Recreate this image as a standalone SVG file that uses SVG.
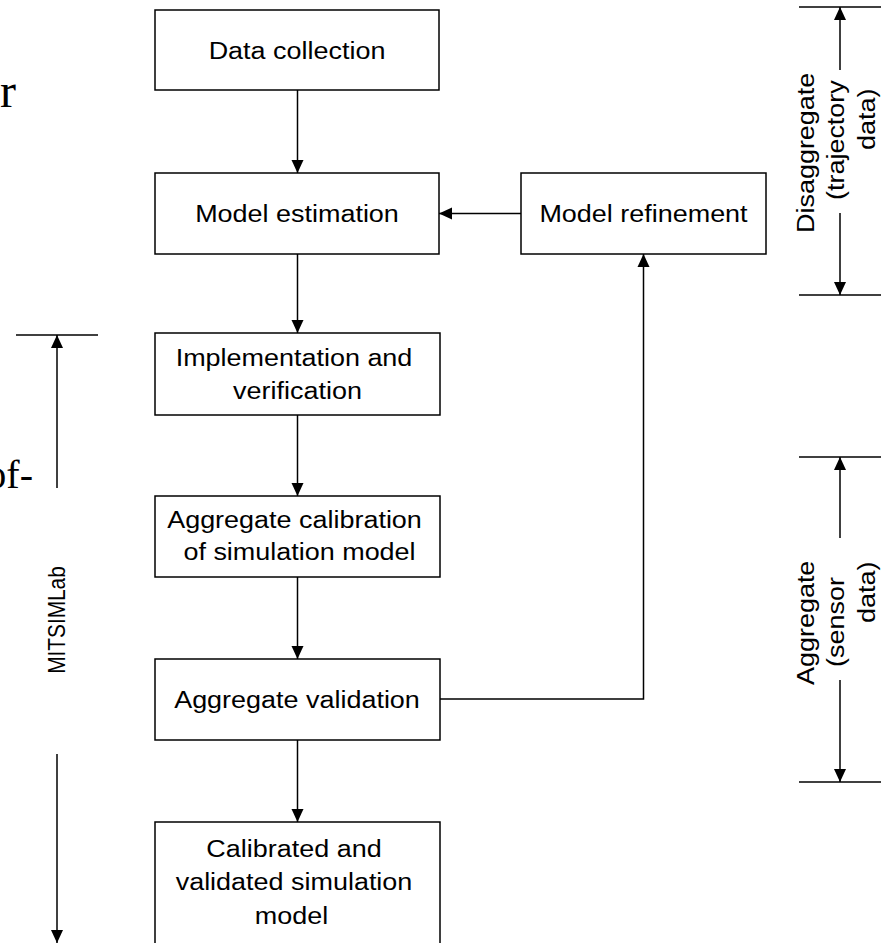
<svg xmlns="http://www.w3.org/2000/svg" width="892" height="943" viewBox="0 0 892 943">
  <style>
    .box { fill: #fff; stroke: #000; stroke-width: 1.5; }
    .lbl { font-family: "Liberation Sans", Arial, sans-serif; font-size: 24.5px; fill: #000; text-anchor: middle; }
    .side { font-family: "Liberation Sans", Arial, sans-serif; font-size: 24.5px; fill: #000; text-anchor: start; }
    .page { font-family: "Liberation Serif", "Times New Roman", serif; fill: #000; text-anchor: end; }
    .wire { fill: none; stroke: #000; stroke-width: 1.5; }
  </style>
  <defs>
    <marker id="head" markerUnits="userSpaceOnUse" markerWidth="14" markerHeight="13" refX="13" refY="6.5" orient="auto">
      <path d="M0,0.5 L13,6.5 L0,12.5 z" fill="#000"/>
    </marker>
  </defs>

  <rect width="892" height="943" fill="#fff"/>

  <!-- surrounding page text cut off at the left edge -->
  <text class="page" x="16" y="107" font-size="48">r</text>
  <text class="page" x="33" y="488" font-size="40">of-</text>

  <!-- process boxes -->
  <g id="data-collection">
    <rect class="box" x="155" y="10" width="284" height="80"/>
    <text class="lbl" transform="translate(297,59) scale(1.1,1)">Data collection</text>
  </g>
  <g id="model-estimation">
    <rect class="box" x="155" y="173" width="284" height="81"/>
    <text class="lbl" transform="translate(297,222) scale(1.1,1)">Model estimation</text>
  </g>
  <g id="model-refinement">
    <rect class="box" x="521" y="173" width="245" height="81"/>
    <text class="lbl" transform="translate(643.5,222) scale(1.1,1)">Model refinement</text>
  </g>
  <g id="implementation">
    <rect class="box" x="155" y="333" width="285" height="82"/>
    <text class="lbl" transform="translate(294,366) scale(1.1,1)">Implementation and</text>
    <text class="lbl" transform="translate(297.5,399) scale(1.1,1)">verification</text>
  </g>
  <g id="aggregate-calibration">
    <rect class="box" x="155" y="496" width="285" height="81"/>
    <text class="lbl" transform="translate(294.5,528) scale(1.1,1)">Aggregate calibration</text>
    <text class="lbl" transform="translate(299.5,560) scale(1.1,1)">of simulation model</text>
  </g>
  <g id="aggregate-validation">
    <rect class="box" x="155" y="659" width="285" height="81"/>
    <text class="lbl" transform="translate(297,708) scale(1.1,1)">Aggregate validation</text>
  </g>
  <g id="calibrated-model">
    <rect class="box" x="155" y="822" width="285" height="140"/>
    <text class="lbl" transform="translate(294,857) scale(1.1,1)">Calibrated and</text>
    <text class="lbl" transform="translate(294,890) scale(1.1,1)">validated simulation</text>
    <text class="lbl" transform="translate(291.5,924) scale(1.1,1)">model</text>
  </g>

  <!-- flow connectors -->
  <g id="connectors">
    <line class="wire" x1="297.5" y1="90" x2="297.5" y2="173" marker-end="url(#head)"/>
    <line class="wire" x1="297.5" y1="254" x2="297.5" y2="333" marker-end="url(#head)"/>
    <line class="wire" x1="297.5" y1="415" x2="297.5" y2="496" marker-end="url(#head)"/>
    <line class="wire" x1="297.5" y1="577" x2="297.5" y2="659" marker-end="url(#head)"/>
    <line class="wire" x1="297.5" y1="740" x2="297.5" y2="822" marker-end="url(#head)"/>
    <polyline class="wire" points="440,699 643.5,699 643.5,254" marker-end="url(#head)"/>
    <line class="wire" x1="521" y1="213.5" x2="439" y2="213.5" marker-end="url(#head)"/>
  </g>

  <!-- range brackets -->
  <g id="range-mitsimlab">
    <line class="wire" x1="16" y1="335" x2="98" y2="335"/>
    <line class="wire" x1="57" y1="488" x2="57" y2="335" marker-end="url(#head)"/>
    <line class="wire" x1="57" y1="754" x2="57" y2="943" marker-end="url(#head)"/>
    <text class="lbl" font-size="22" transform="translate(65,620) rotate(-90) scale(0.85,1)">MITSIMLab</text>
  </g>
  <g id="range-disaggregate">
    <line class="wire" x1="799" y1="7" x2="881" y2="7"/>
    <line class="wire" x1="840" y1="70" x2="840" y2="7" marker-end="url(#head)"/>
    <line class="wire" x1="840" y1="213" x2="840" y2="295" marker-end="url(#head)"/>
    <line class="wire" x1="799" y1="295" x2="881" y2="295"/>
    <text class="side" transform="translate(813.5,233) rotate(-90) scale(1.1,1)">Disaggregate</text>
    <text class="side" transform="translate(844,200) rotate(-90) scale(1.1,1)">(trajectory</text>
    <text class="side" transform="translate(875,150) rotate(-90) scale(1.1,1)">data)</text>
  </g>
  <g id="range-aggregate">
    <line class="wire" x1="799" y1="457" x2="881" y2="457"/>
    <line class="wire" x1="840" y1="538" x2="840" y2="457" marker-end="url(#head)"/>
    <line class="wire" x1="840" y1="680" x2="840" y2="782" marker-end="url(#head)"/>
    <line class="wire" x1="799" y1="782" x2="881" y2="782"/>
    <text class="side" transform="translate(813.5,685) rotate(-90) scale(1.1,1)">Aggregate</text>
    <text class="side" transform="translate(844,667) rotate(-90) scale(1.1,1)">(sensor</text>
    <text class="side" transform="translate(875,623) rotate(-90) scale(1.1,1)">data)</text>
  </g>
</svg>
